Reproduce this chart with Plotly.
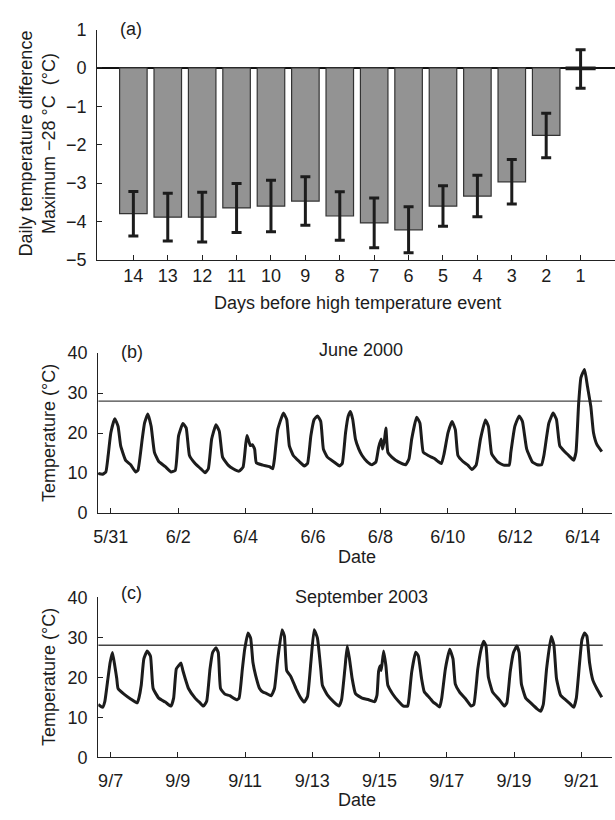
import plotly.graph_objects as go

# ---------------- Panel (a) data ----------------
days_before = ["14", "13", "12", "11", "10", "9", "8", "7", "6", "5", "4", "3", "2", "1"]
temp_diff = [-3.80, -3.89, -3.89, -3.65, -3.60, -3.47, -3.86, -4.04, -4.22, -3.60, -3.34, -2.97, -1.76, -0.03]
temp_err = [0.58, 0.62, 0.65, 0.64, 0.67, 0.63, 0.63, 0.65, 0.60, 0.53, 0.54, 0.58, 0.58, 0.50]
a_yticks = [1, 0, -1, -2, -3, -4, -5]

# ---------------- Panel (b) data: June 2000 (days after 5/31 tick) ----------------
b_day = [-0.374, -0.246, -0.148, -0.080, 0.0, 0.117, 0.215, 0.293, 0.44, 0.589,
         0.735, 0.804, 0.931, 1.0, 1.098, 1.196, 1.294, 1.422, 1.618, 1.785,
         1.913, 2.01, 2.138, 2.236, 2.334, 2.501, 2.668, 2.796, 2.894, 2.992,
         3.12, 3.218, 3.316, 3.482, 3.63, 3.807, 3.924, 4.003, 4.042, 4.14,
         4.199, 4.268, 4.317, 4.513, 4.709, 4.807, 4.856, 4.954, 5.121, 5.22,
         5.298, 5.415, 5.592, 5.74, 5.837, 5.936, 6.034, 6.132, 6.23, 6.309,
         6.427, 6.623, 6.79, 6.868, 6.966, 7.044, 7.113, 7.18, 7.26, 7.36,
         7.457, 7.604, 7.751, 7.868, 7.947, 8.026, 8.065, 8.124, 8.163, 8.222,
         8.34, 8.536, 8.752, 8.85, 8.929, 9.076, 9.174, 9.272, 9.42, 9.517,
         9.615, 9.712, 9.812, 9.89, 10.008, 10.126, 10.224, 10.302, 10.45, 10.597,
         10.715, 10.842, 10.97, 11.117, 11.206, 11.303, 11.48, 11.657, 11.823, 11.872,
         11.99, 12.118, 12.216, 12.343, 12.51, 12.657, 12.785, 12.853, 13.0, 13.128,
         13.226, 13.325, 13.49, 13.638, 13.736, 13.805, 13.884, 13.952, 14.06, 14.149,
         14.247, 14.325, 14.424, 14.571]
b_temp = [9.9, 9.7, 10.3, 14.4, 20.1, 23.6, 21.7, 16.8, 13.2, 12.1,
          10.3, 10.7, 18.5, 22.5, 24.8, 21.7, 15.2, 12.9, 11.6, 10.3,
          10.7, 19.3, 22.4, 21.3, 14.4, 12.4, 11.1, 10.1, 11.1, 18.5,
          22.1, 20.5, 14.0, 12.0, 11.1, 10.5, 11.5, 17.2, 19.4, 16.9,
          17.1, 16.0, 12.6, 12.0, 11.6, 11.1, 13.6, 20.9, 25.0, 23.4,
          16.8, 14.4, 12.9, 11.8, 12.4, 19.3, 23.4, 24.3, 22.9, 16.0,
          14.0, 12.8, 11.8, 12.4, 20.1, 24.2, 25.4, 23.4, 18.5, 16.0,
          14.4, 12.9, 12.1, 12.8, 16.4, 18.5, 16.0, 18.5, 21.3, 15.2,
          14.0, 12.8, 12.1, 13.6, 18.5, 24.0, 22.5, 15.2, 14.4, 14.0,
          13.6, 12.9, 12.4, 14.8, 20.1, 22.9, 20.9, 14.4, 12.9, 12.0,
          10.9, 12.0, 18.5, 23.3, 21.7, 14.8, 12.8, 12.0, 12.0, 15.2,
          21.7, 24.3, 22.9, 16.0, 12.8, 12.1, 12.1, 14.4, 22.5, 25.0,
          23.4, 16.8, 15.2, 14.0, 13.2, 15.2, 27.4, 33.9, 35.9, 31.5,
          26.6, 20.1, 17.2, 15.4]
b_ticktext = ["5/31", "6/2", "6/4", "6/6", "6/8", "6/10", "6/12", "6/14"]
b_line_x = [-0.374, 14.58]

# ---------------- Panel (c) data: September 2003 (days after 9/7 tick) ----------------
c_day = [-0.369, -0.241, -0.172, -0.093, -0.015, 0.054, 0.123, 0.182, 0.221, 0.398,
         0.595, 0.792, 0.841, 0.91, 0.988, 1.087, 1.185, 1.264, 1.431, 1.628,
         1.795, 1.874, 1.953, 2.022, 2.09, 2.149, 2.218, 2.316, 2.513, 2.66,
         2.759, 2.857, 2.956, 3.035, 3.133, 3.202, 3.27, 3.398, 3.546, 3.742,
         3.821, 3.919, 3.988, 4.087, 4.165, 4.234, 4.313, 4.431, 4.529, 4.628,
         4.775, 4.874, 4.972, 5.1, 5.17, 5.238, 5.366, 5.513, 5.66, 5.759,
         5.857, 5.956, 6.054, 6.152, 6.251, 6.3, 6.447, 6.644, 6.792, 6.87,
         6.969, 7.038, 7.106, 7.185, 7.284, 7.48, 7.677, 7.854, 7.923, 7.972,
         8.021, 8.051, 8.12, 8.189, 8.247, 8.385, 8.562, 8.71, 8.837, 8.877,
         8.956, 9.074, 9.152, 9.25, 9.33, 9.497, 9.595, 9.693, 9.79, 9.85,
         9.958, 10.087, 10.185, 10.254, 10.381, 10.578, 10.726, 10.805, 10.923, 11.021,
         11.1, 11.168, 11.237, 11.365, 11.562, 11.71, 11.788, 11.886, 11.985, 12.083,
         12.152, 12.221, 12.349, 12.497, 12.674, 12.792, 12.871, 12.969, 13.106, 13.185,
         13.264, 13.382, 13.529, 13.677, 13.775, 13.854, 13.952, 14.021, 14.1, 14.168,
         14.247, 14.345, 14.463, 14.611]
c_temp = [13.2, 12.5, 14.0, 18.9, 23.7, 26.2, 22.9, 19.7, 17.2, 15.8,
          14.6, 13.6, 14.8, 18.0, 24.6, 26.6, 25.3, 17.2, 14.8, 13.8,
          12.8, 14.8, 22.1, 22.9, 23.6, 21.7, 19.7, 17.2, 14.8, 13.6,
          12.8, 14.0, 22.1, 26.2, 27.4, 26.2, 17.2, 15.8, 15.4, 14.4,
          14.8, 22.1, 27.0, 31.1, 29.8, 23.7, 20.5, 17.2, 16.3, 16.0,
          15.4, 17.2, 24.6, 31.9, 30.3, 21.7, 20.1, 17.2, 14.8, 13.8,
          15.2, 23.7, 31.9, 29.8, 22.1, 18.0, 15.6, 13.8, 12.8, 14.4,
          22.1, 27.8, 24.6, 19.7, 15.9, 14.8, 14.4, 13.9, 15.5, 21.5,
          22.9, 21.7, 26.6, 22.9, 18.0, 15.9, 14.0, 12.8, 12.8, 14.8,
          21.3, 26.3, 25.4, 19.7, 16.4, 14.8, 13.8, 13.2, 12.6, 14.8,
          22.1, 27.0, 24.6, 18.3, 16.3, 14.4, 12.8, 13.2, 22.1, 27.0,
          29.0, 27.8, 20.1, 16.3, 14.4, 12.8, 13.6, 21.3, 26.2, 27.8,
          26.2, 18.3, 14.8, 13.6, 12.2, 11.5, 13.2, 22.1, 30.2, 28.2,
          19.7, 15.6, 14.4, 13.3, 12.5, 14.8, 23.7, 29.4, 31.1, 30.3,
          23.7, 19.3, 17.2, 15.0]
c_ticktext = ["9/7", "9/9", "9/11", "9/13", "9/15", "9/17", "9/19", "9/21"]
c_line_x = [-0.369, 14.64]

threshold = 28
temp_ticks = [0, 10, 20, 30, 40]
date_tickvals = [0, 2, 4, 6, 8, 10, 12, 14]

assert len(b_day) == len(b_temp) and len(c_day) == len(c_temp)

FONT = "Liberation Sans, Arial, sans-serif"
INK = "#1c1c1c"
FS = 18

fig = go.Figure()

# Panel (a) bars; the near-zero last bar is drawn with a heavier outline as in the original
bar_outline_w = [1.2] * (len(days_before) - 1) + [2.6]
bar_outline_c = ["#333333"] * (len(days_before) - 1) + [INK]
fig.add_trace(go.Bar(
    x=days_before, y=temp_diff, width=0.8,
    marker=dict(color="#939393", line=dict(color=bar_outline_c, width=bar_outline_w)),
    error_y=dict(type="data", array=temp_err, visible=True, color=INK, thickness=3, width=5),
    xaxis="x", yaxis="y", showlegend=False))

# Panel (b)
fig.add_trace(go.Scatter(x=b_line_x, y=[threshold, threshold], mode="lines",
                         line=dict(color="#444444", width=1.4), xaxis="x2", yaxis="y2", showlegend=False))
fig.add_trace(go.Scatter(x=b_day, y=b_temp, mode="lines",
                         line=dict(color=INK, width=3, shape="spline", smoothing=0.4),
                         xaxis="x2", yaxis="y2", showlegend=False))

# Panel (c)
fig.add_trace(go.Scatter(x=c_line_x, y=[threshold, threshold], mode="lines",
                         line=dict(color="#444444", width=1.4), xaxis="x3", yaxis="y3", showlegend=False))
fig.add_trace(go.Scatter(x=c_day, y=c_temp, mode="lines",
                         line=dict(color=INK, width=3, shape="spline", smoothing=0.4),
                         xaxis="x3", yaxis="y3", showlegend=False))

axis_common = dict(showline=True, linecolor="#222222", linewidth=1.2, ticks="inside",
                   ticklen=5, tickwidth=1.2, tickcolor="#222222", showgrid=False,
                   tickfont=dict(family=FONT, size=FS, color=INK), mirror=False)

fig.update_layout(
    width=615, height=820, margin=dict(l=0, r=0, t=0, b=0),
    paper_bgcolor="white", plot_bgcolor="white",
    font=dict(family=FONT, size=FS, color=INK),
    xaxis=dict(domain=[93/615, 1.0], anchor="y", type="category", range=[-1.05, 14.0],
               ticklabelstandoff=0, zeroline=False, **axis_common),
    yaxis=dict(domain=[1-256/820, 1-20/820], anchor="x", range=[-5, 1], tickvals=a_yticks,
               zeroline=True, zerolinecolor="#111111", zerolinewidth=1.6,
               ticklabelstandoff=6, **axis_common),
    xaxis2=dict(domain=[94/615, 612/615], anchor="y2", range=[-0.374, 14.875],
                tickvals=date_tickvals, ticktext=b_ticktext, zeroline=False,
                ticklabelstandoff=7, **axis_common),
    yaxis2=dict(domain=[1-515.7/820, 1-351.7/820], anchor="x2", range=[0, 40],
                tickvals=temp_ticks, zeroline=False, ticklabelstandoff=6, **axis_common),
    xaxis3=dict(domain=[94/615, 612/615], anchor="y3", range=[-0.369, 14.916],
                tickvals=date_tickvals, ticktext=c_ticktext, zeroline=False,
                ticklabelstandoff=7, **axis_common),
    yaxis3=dict(domain=[1-766/820, 1-602/820], anchor="x3", range=[0, 40],
                tickvals=temp_ticks, zeroline=False, ticklabelstandoff=6, **axis_common),
    bargap=0.2,
)

def ann(text, x, y, angle=0, xanchor="center", yanchor="middle", size=FS):
    fig.add_annotation(text=text, x=x/615, y=1-y/820, xref="paper", yref="paper",
                       showarrow=False, textangle=angle, xanchor=xanchor, yanchor=yanchor,
                       font=dict(family=FONT, size=size, color=INK))

ann("(a)", 114, 19, xanchor="left")
ann("Daily temperature difference<br>Maximum \u221228 \u00b0C\u00a0\u00a0(\u00b0C)", 33, 137, angle=-90)
ann("Days before high temperature event", 355, 300)

ann("(b)", 115, 351, xanchor="left")
ann("June 2000", 359, 349)
ann("Temperature (\u00b0C)", 45, 434, angle=-90)
ann("Date", 355, 561)

ann("(c)", 115, 598, xanchor="left")
ann("September 2003", 359, 602)
ann("Temperature (\u00b0C)", 45, 684, angle=-90)
ann("Date", 355, 810)

fig.write_html("out.html")
